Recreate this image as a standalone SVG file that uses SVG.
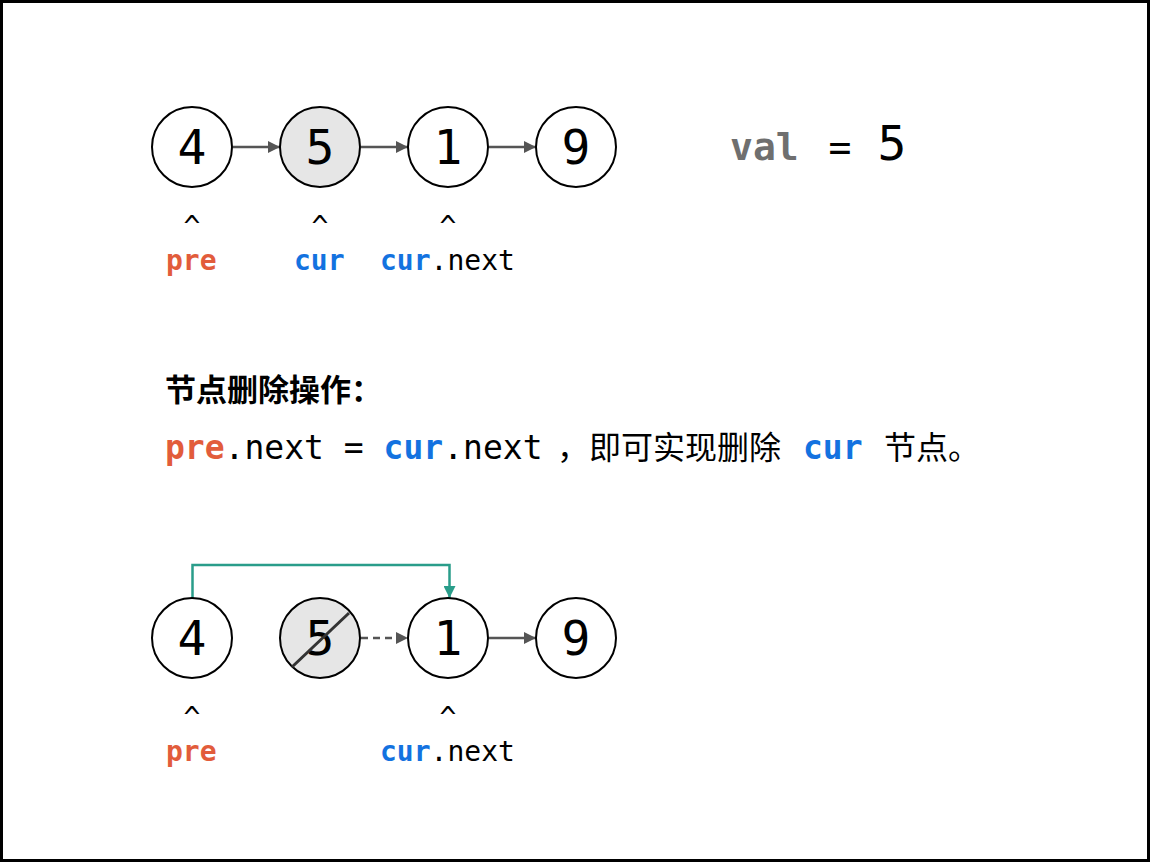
<svg xmlns="http://www.w3.org/2000/svg" width="1150" height="862" viewBox="0 0 1150 862">
<style>
.node{fill:#fff;stroke:#000;stroke-width:2}
.del{fill:#e6e6e6;stroke:#000;stroke-width:2}
.num{font-family:"DejaVu Sans Mono","Liberation Mono",monospace;font-size:48px;fill:#000;text-anchor:middle}
.mono{font-family:"DejaVu Sans Mono","Liberation Mono",monospace;fill:#000}
.cjk{font-family:"Noto Sans CJK SC","DejaVu Sans",sans-serif;fill:#000}
.pre{fill:#e25c3b;font-weight:bold}
.cur{fill:#1372e0;font-weight:bold}
.val{fill:#6f6f6f;font-weight:bold}
.lnk{stroke:#555;stroke-width:2.5;fill:none}
.new{stroke:#2a9d8a;stroke-width:2.5;fill:none}
</style>
<defs>
<marker id="ah" viewBox="0 0 12 12" refX="12" refY="6" markerWidth="12" markerHeight="12" markerUnits="userSpaceOnUse" orient="auto">
<path d="M0,0 L12,6 L0,12 Z" fill="#555"/>
</marker>
<marker id="aht" viewBox="0 0 12 12" refX="12" refY="6" markerWidth="12" markerHeight="12" markerUnits="userSpaceOnUse" orient="auto">
<path d="M0,0 L12,6 L0,12 Z" fill="#2a9d8a"/>
</marker>
</defs>
<rect x="1.5" y="1.5" width="1147" height="859" fill="#fff" stroke="#000" stroke-width="3"/>

<g id="connectors">
<line class="lnk" x1="233" y1="147" x2="280" y2="147" marker-end="url(#ah)"/>
<line class="lnk" x1="361" y1="147" x2="408" y2="147" marker-end="url(#ah)"/>
<line class="lnk" x1="489" y1="147" x2="536" y2="147" marker-end="url(#ah)"/>
<line class="lnk" x1="361" y1="638" x2="408" y2="638" stroke-dasharray="7,5" marker-end="url(#ah)"/>
<line class="lnk" x1="489" y1="638" x2="536" y2="638" marker-end="url(#ah)"/>
<polyline class="new" points="192.5,598 192.5,565 449.5,565 449.5,598" marker-end="url(#aht)"/>
</g>

<g id="top-node-4"><circle class="node" cx="192" cy="147" r="40"/><text class="num" x="192" y="164">4</text></g>
<g id="top-node-5"><circle class="del" cx="320" cy="147" r="40"/><text class="num" x="320" y="164">5</text></g>
<g id="top-node-1"><circle class="node" cx="448" cy="147" r="40"/><text class="num" x="448" y="164">1</text></g>
<g id="top-node-9"><circle class="node" cx="576" cy="147" r="40"/><text class="num" x="576" y="164">9</text></g>

<g id="val-label">
<text class="mono val" x="730" y="160" font-size="38">val</text>
<text class="mono" x="840" y="160" font-size="38" text-anchor="middle">=</text>
<text class="num" x="892" y="160">5</text>
</g>

<g id="top-pointers" class="mono" font-size="28">
<text x="192" y="236" text-anchor="middle">^</text>
<text x="320" y="236" text-anchor="middle">^</text>
<text x="448" y="236" text-anchor="middle">^</text>
<text x="166" y="270" class="mono pre">pre</text>
<text x="294" y="270" class="mono cur">cur</text>
<text x="380" y="270"><tspan class="cur">cur</tspan>.next</text>
</g>

<g id="explanation">
<text class="cjk" x="165" y="401" font-size="31" font-weight="bold">节点删除操作：</text>
<text class="mono" x="165" y="459" font-size="33"><tspan class="pre">pre</tspan>.next = <tspan class="cur">cur</tspan>.next </text>
<text class="cjk" x="557" y="459" font-size="32">，即可实现删除</text>
<text class="mono cur" x="803" y="459" font-size="33">cur</text>
<text class="cjk" x="884" y="459" font-size="32">节点。</text>
</g>

<g id="bottom-node-4"><circle class="node" cx="192" cy="638" r="40"/><text class="num" x="192" y="655">4</text></g>
<g id="bottom-node-5"><circle class="del" cx="320" cy="638" r="40"/><text class="num" x="320" y="655">5</text><line x1="292" y1="667" x2="349" y2="613" stroke="#333" stroke-width="3"/></g>
<g id="bottom-node-1"><circle class="node" cx="448" cy="638" r="40"/><text class="num" x="448" y="655">1</text></g>
<g id="bottom-node-9"><circle class="node" cx="576" cy="638" r="40"/><text class="num" x="576" y="655">9</text></g>

<g id="bottom-pointers" class="mono" font-size="28">
<text x="192" y="727" text-anchor="middle">^</text>
<text x="448" y="727" text-anchor="middle">^</text>
<text x="166" y="761" class="mono pre">pre</text>
<text x="380" y="761"><tspan class="cur">cur</tspan>.next</text>
</g>
</svg>
